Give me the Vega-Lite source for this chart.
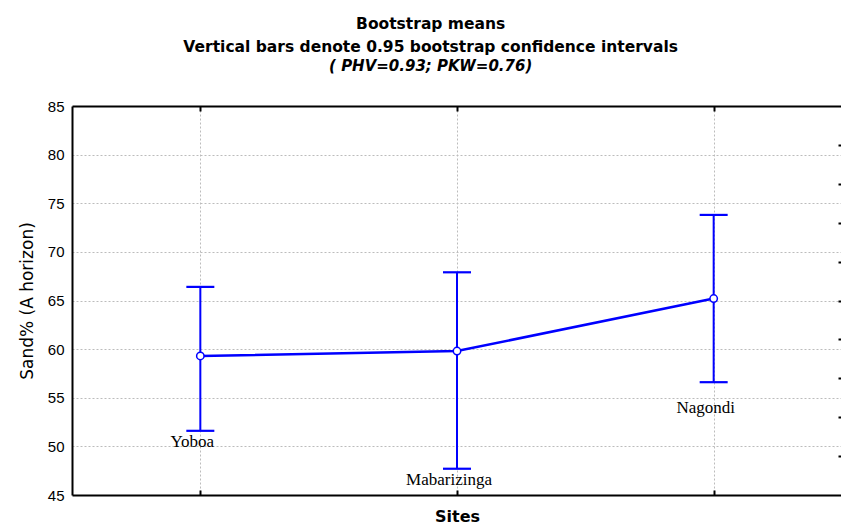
{
  "$schema": "https://vega.github.io/schema/vega-lite/v6.json",
  "autosize": "none",
  "width": 770,
  "height": 389,
  "padding": {"left": 72, "top": 106, "right": 0, "bottom": 36},
  "background": "white",
  "title": {
    "text": ["Bootstrap means", "Vertical bars denote 0.95 bootstrap confidence intervals"],
    "subtitle": "( PHV=0.93; PKW=0.76)",
    "anchor": "middle",
    "frame": "bounds",
    "font": "DejaVu Sans",
    "fontSize": 15.5,
    "fontWeight": "bold",
    "lineHeight": 23,
    "color": "black",
    "subtitleFont": "DejaVu Sans",
    "subtitleFontSize": 15,
    "subtitleFontWeight": "bold",
    "subtitleFontStyle": "italic",
    "subtitleColor": "black",
    "subtitlePadding": 4,
    "offset": 25
  },
  "data": {
    "values": [
      {"site": "Yoboa", "mean": 59.3, "lo": 51.6, "hi": 66.4},
      {"site": "Mabarizinga", "mean": 59.8, "lo": 47.7, "hi": 67.9},
      {"site": "Nagondi", "mean": 65.2, "lo": 56.6, "hi": 73.8}
    ]
  },
  "layer": [
    {
      "encoding": {
        "x": {
          "field": "site",
          "type": "nominal",
          "sort": null,
          "scale": {"type": "point", "padding": 0.5},
          "axis": {
            "orient": "bottom",
            "labels": false,
            "ticks": true,
            "tickSize": -5,
            "tickWidth": 2,
            "tickColor": "black",
            "domain": true,
            "domainColor": "black",
            "domainWidth": 2,
            "grid": true,
            "gridColor": "#bcbcbc",
            "gridDash": [2, 2],
            "gridWidth": 1,
            "title": "Sites",
            "titleFont": "DejaVu Sans",
            "titleFontSize": 16,
            "titleFontWeight": "bold",
            "titleColor": "black",
            "titlePadding": 12
          }
        },
        "y": {
          "type": "quantitative",
          "scale": {"domain": [45, 85], "nice": false, "zero": false},
          "axis": {
            "orient": "left",
            "values": [45, 50, 55, 60, 65, 70, 75, 80, 85],
            "labelFont": "Liberation Sans",
            "labelFontSize": 15,
            "labelColor": "black",
            "labelPadding": 8,
            "ticks": false,
            "domain": true,
            "domainColor": "black",
            "domainWidth": 2,
            "grid": true,
            "gridColor": "#bcbcbc",
            "gridDash": [2, 2],
            "gridWidth": 1,
            "gridOpacity": {
              "condition": {"test": "datum.value === 45 || datum.value === 85", "value": 0},
              "value": 1
            },
            "title": "Sand% (A horizon)",
            "titleFont": "DejaVu Sans",
            "titleFontSize": 17,
            "titleFontWeight": "normal",
            "titleColor": "black",
            "titlePadding": 11
          }
        }
      },
      "layer": [
        {
          "mark": {"type": "line", "color": "#0000ff", "strokeWidth": 2.5},
          "encoding": {"y": {"field": "mean"}}
        },
        {
          "mark": {"type": "rule", "color": "#0000ff", "strokeWidth": 2},
          "encoding": {"y": {"field": "lo"}, "y2": {"field": "hi"}}
        },
        {
          "mark": {"type": "tick", "orient": "horizontal", "color": "#0000ff", "size": 28, "thickness": 2.2, "opacity": 1},
          "encoding": {"y": {"field": "hi"}}
        },
        {
          "mark": {"type": "tick", "orient": "horizontal", "color": "#0000ff", "size": 28, "thickness": 2.2, "opacity": 1},
          "encoding": {"y": {"field": "lo"}}
        },
        {
          "mark": {"type": "point", "filled": true, "fill": "white", "stroke": "#0000ff", "strokeWidth": 1.5, "size": 55, "opacity": 1},
          "encoding": {"y": {"field": "mean"}}
        },
        {
          "transform": [{"filter": "datum.site !== 'Nagondi'"}],
          "mark": {"type": "text", "font": "Liberation Serif", "fontSize": 17, "color": "black", "baseline": "top", "dx": -8, "dy": 3},
          "encoding": {"y": {"field": "lo"}, "text": {"field": "site"}}
        },
        {
          "transform": [{"filter": "datum.site === 'Nagondi'"}],
          "mark": {"type": "text", "font": "Liberation Serif", "fontSize": 17, "color": "black", "baseline": "top", "dx": -8, "dy": 18},
          "encoding": {"y": {"field": "lo"}, "text": {"field": "site"}}
        }
      ]
    },
    {
      "mark": {"type": "point", "opacity": 0},
      "encoding": {
        "x": {
          "field": "site",
          "type": "nominal",
          "sort": null,
          "axis": {
            "orient": "top",
            "labels": false,
            "ticks": true,
            "tickSize": -5,
            "tickWidth": 2,
            "tickColor": "black",
            "domain": true,
            "domainColor": "black",
            "domainWidth": 2,
            "grid": false,
            "title": null,
            "zindex": 1
          }
        },
        "y": {
          "datum": 0,
          "type": "quantitative",
          "scale": {"domain": [0, 10], "nice": false},
          "axis": {
            "orient": "right",
            "values": [1, 2, 3, 4, 5, 6, 7, 8, 9],
            "labels": false,
            "ticks": true,
            "tickSize": -4,
            "tickWidth": 2,
            "tickColor": "black",
            "domain": true,
            "domainColor": "black",
            "domainWidth": 2,
            "grid": false,
            "title": null,
            "zindex": 1
          }
        }
      }
    }
  ],
  "resolve": {
    "scale": {"y": "independent"},
    "axis": {"x": "independent", "y": "independent"}
  },
  "config": {
    "view": {"stroke": null}
  }
}
